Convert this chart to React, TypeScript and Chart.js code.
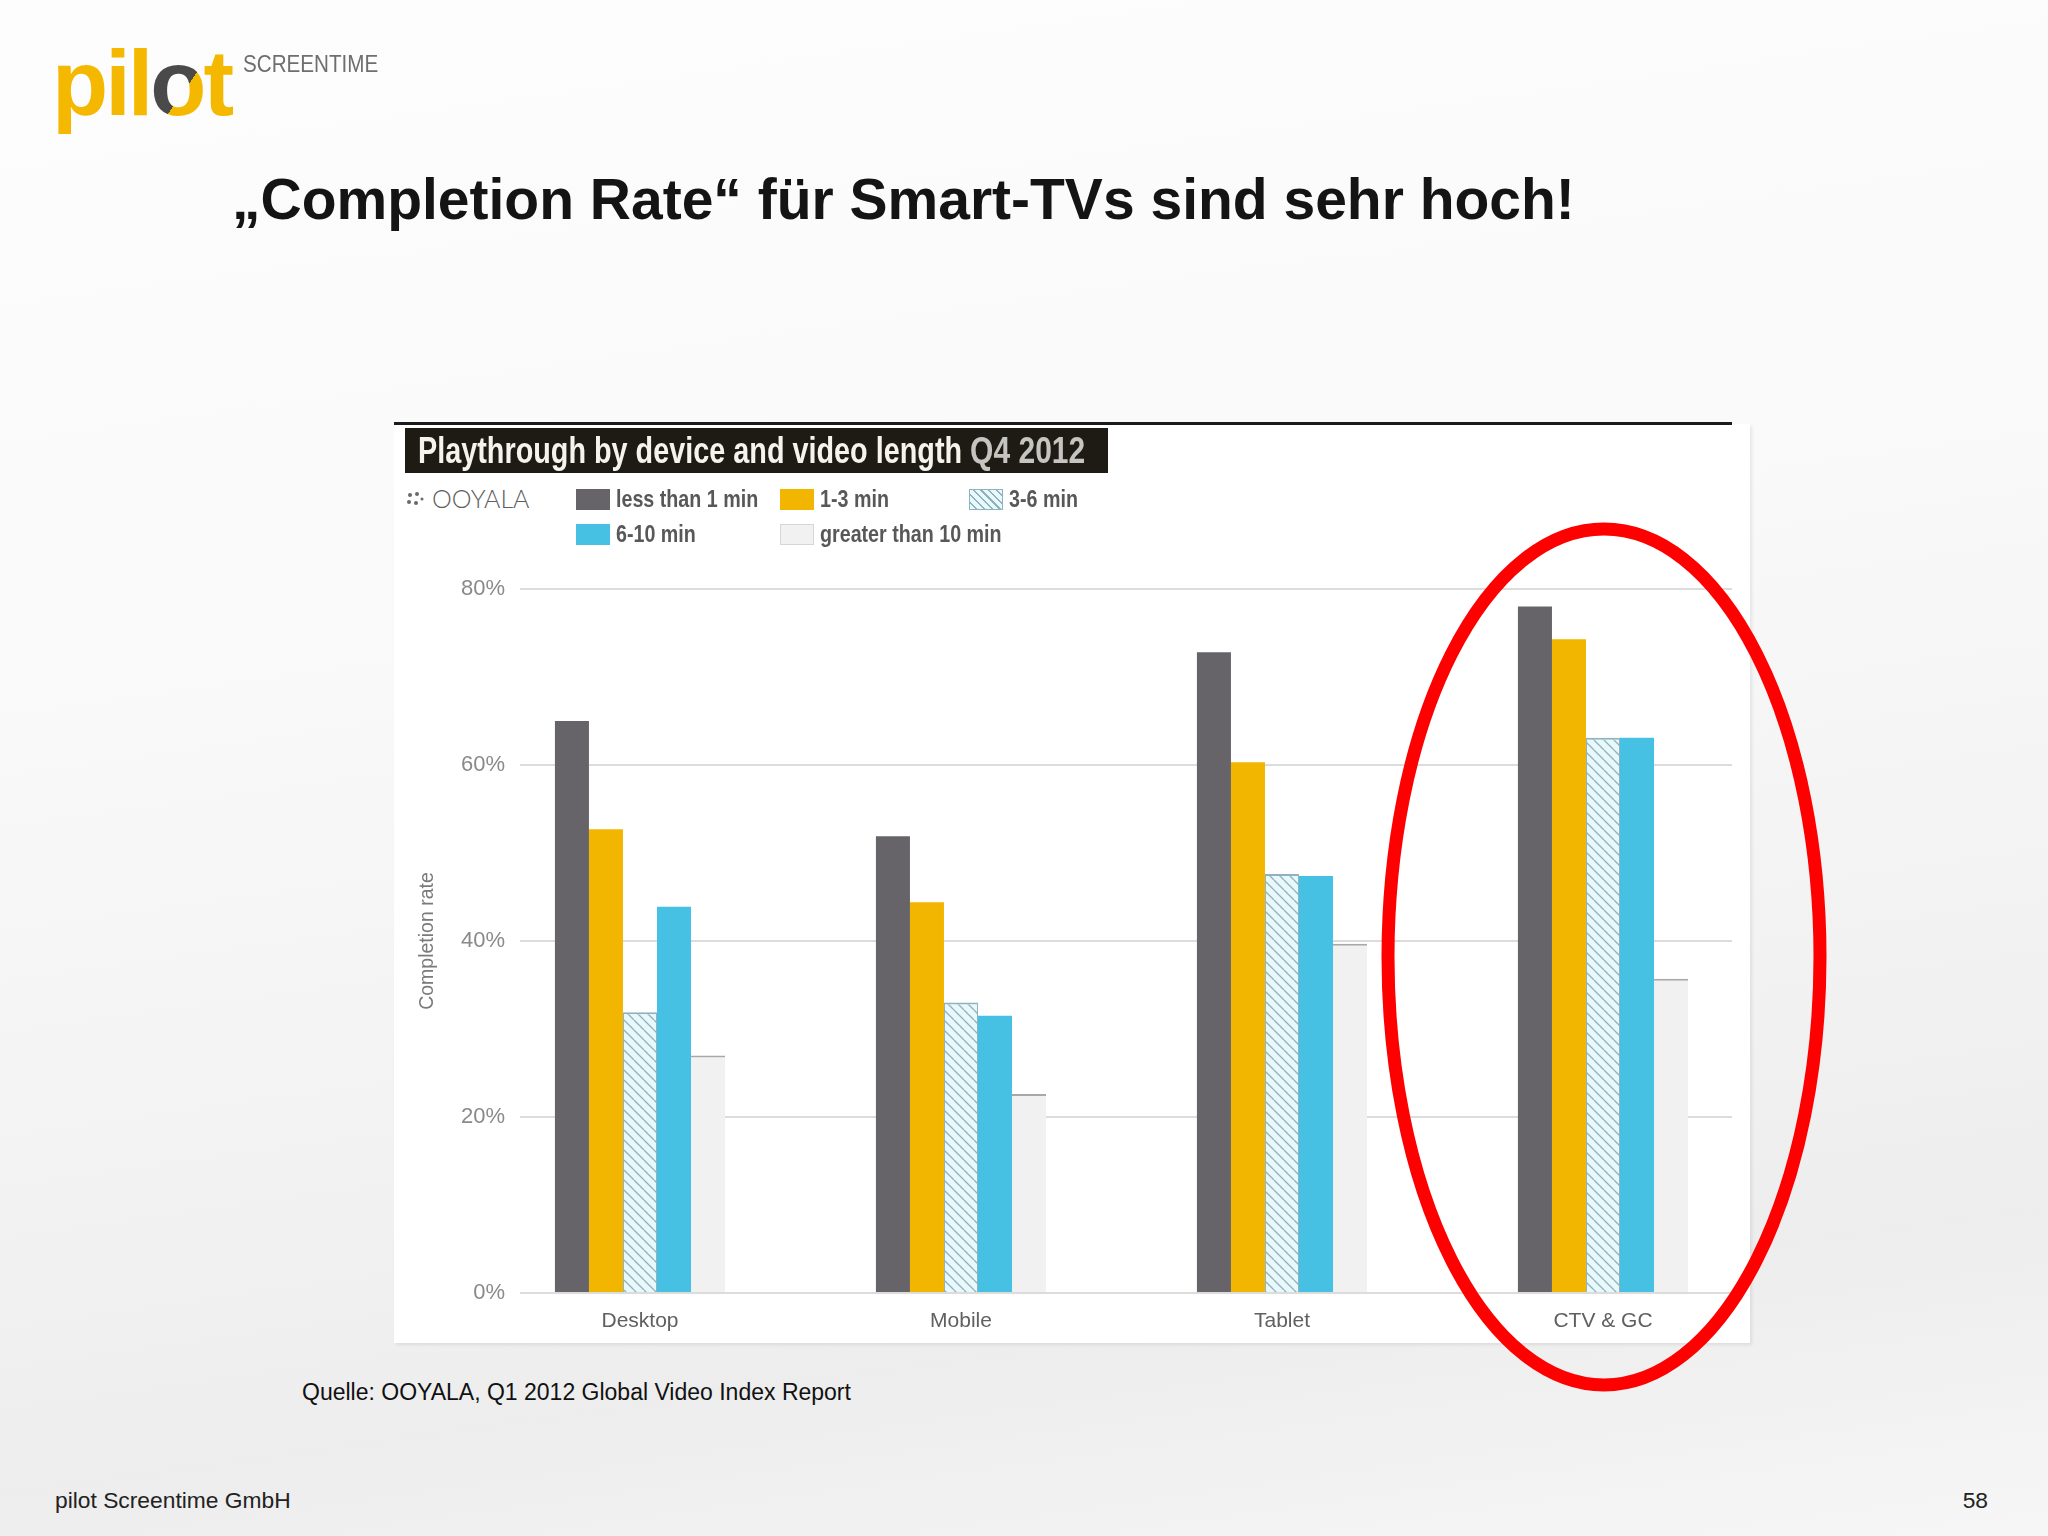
import React, { useEffect, useRef } from "react";
import { Chart, registerables } from "chart.js";

Chart.register(...registerables);

// ---------- data ----------
const categories = ["Desktop", "Mobile", "Tablet", "CTV & GC"];
const seriesNames = ["less than 1 min", "1-3 min", "3-6 min", "6-10 min", "greater than 10 min"];
const lessThan1Min = [65.0, 51.9, 72.8, 78.0];
const min1to3 = [52.7, 44.4, 60.3, 74.3];
const min3to6 = [31.9, 33.0, 47.6, 63.1];
const min6to10 = [43.9, 31.5, 47.4, 63.1];
const greaterThan10Min = [27.0, 22.6, 39.7, 35.7];
const yTicks = [0, 20, 40, 60, 80];

// ---------- styles ----------
const DARK = "#666468";
const YELLOW = "#f3b600";
const BLUE = "#47c1e3";
const LIGHT = "#f1f1f1";
const HATCH_BG = "#e9f8fb";
const HATCH_LINE = "#8fb3be";
const FONT = '"Liberation Sans", Arial, Helvetica, sans-serif';

function makeHatch(size = 10): CanvasPattern | string {
  const c = document.createElement("canvas");
  c.width = size;
  c.height = size;
  const g = c.getContext("2d");
  if (!g) return HATCH_BG;
  g.fillStyle = HATCH_BG;
  g.fillRect(0, 0, size, size);
  g.strokeStyle = HATCH_LINE;
  g.lineWidth = 1.3;
  for (const o of [-size, 0, size]) {
    g.beginPath();
    g.moveTo(o, 0);
    g.lineTo(o + size, size);
    g.stroke();
  }
  return g.createPattern(c, "repeat") || HATCH_BG;
}

const toPoints = (vals: number[]) => vals.map((y, i) => ({ x: i, y }));

const legendSwatch = [
  { background: DARK, border: "none" },
  { background: YELLOW, border: "none" },
  {
    background: `repeating-linear-gradient(45deg, ${HATCH_BG} 0px, ${HATCH_BG} 4px, ${HATCH_LINE} 4px, ${HATCH_LINE} 5.5px)`,
    border: `1px solid ${HATCH_LINE}`,
  },
  { background: BLUE, border: "none" },
  { background: LIGHT, border: "1px solid #d6d6d6" },
];
const legendColX = [576, 780, 969];
const legendRowY = [499, 534];

function ChartBox() {
  const ref = useRef<HTMLCanvasElement | null>(null);
  useEffect(() => {
    if (!ref.current) return;
    const hatch = makeHatch();
    const chart = new Chart(ref.current, {
      type: "bar",
      data: {
        datasets: [
          { label: seriesNames[0], data: toPoints(lessThan1Min), backgroundColor: DARK, borderWidth: 0 },
          { label: seriesNames[1], data: toPoints(min1to3), backgroundColor: YELLOW, borderWidth: 0 },
          {
            label: seriesNames[2],
            data: toPoints(min3to6),
            backgroundColor: hatch as any,
            borderColor: HATCH_LINE,
            borderWidth: { top: 2, left: 1, right: 1, bottom: 0 },
          },
          { label: seriesNames[3], data: toPoints(min6to10), backgroundColor: BLUE, borderWidth: 0 },
          {
            label: seriesNames[4],
            data: toPoints(greaterThan10Min),
            backgroundColor: LIGHT,
            borderColor: "#a8a8a8",
            borderWidth: { top: 2, left: 0, right: 0, bottom: 0 },
          },
        ],
      },
      options: {
        animation: false,
        responsive: false,
        maintainAspectRatio: false,
        devicePixelRatio: 1,
        layout: { padding: { top: 29, right: 18, left: 0, bottom: 0 } },
        datasets: { bar: { categoryPercentage: 0.53, barPercentage: 1.0, borderSkipped: "start" } },
        plugins: { legend: { display: false }, tooltip: { enabled: false }, title: { display: false } },
        scales: {
          x: {
            type: "linear",
            min: -0.3738,
            max: 3.4019,
            offset: false,
            grid: { display: false },
            border: { display: false },
            afterBuildTicks: (s: any) => {
              s.ticks = categories.map((_, i) => ({ value: i }));
            },
            afterFit: (s: any) => {
              s.height = 50;
            },
            ticks: {
              autoSkip: false,
              maxRotation: 0,
              minRotation: 0,
              padding: 8,
              color: "#606060",
              font: { family: FONT, size: 21 },
              callback: (v: any) => categories[Number(v)] ?? "",
            },
          },
          y: {
            type: "linear",
            min: 0,
            max: 80,
            afterBuildTicks: (s: any) => {
              s.ticks = yTicks.map((v) => ({ value: v }));
            },
            afterFit: (s: any) => {
              s.width = 126;
            },
            grid: { color: "#dcdcdc", lineWidth: 2, drawTicks: false },
            border: { display: false },
            ticks: {
              padding: 15,
              color: "#8a8a8a",
              font: { family: FONT, size: 22 },
              callback: (v: any) => `${v}%`,
            },
            title: {
              display: true,
              text: "Completion rate",
              color: "#7a7a7a",
              font: { family: FONT, size: 19.5 },
              padding: { top: 22, bottom: 0 },
            },
          },
        },
      } as any,
    });
    return () => chart.destroy();
  }, []);
  return (
    <canvas
      ref={ref}
      width={1356}
      height={783}
      style={{ position: "absolute", left: 394, top: 560, width: 1356, height: 783 }}
    />
  );
}

const abs = (left: number, top: number, extra: React.CSSProperties = {}): React.CSSProperties => ({
  position: "absolute",
  left,
  top,
  lineHeight: 1,
  whiteSpace: "nowrap",
  ...extra,
});

export default function App() {
  return (
    <div
      style={{
        position: "absolute",
        left: 0,
        top: 0,
        width: 2048,
        height: 1536,
        overflow: "hidden",
        fontFamily: FONT,
        background:
          "linear-gradient(172deg, #fdfdfd 0%, #f9f9f9 40%, #f1f1f1 70%, #ededed 82%, #f6f6f6 100%)",
      }}
    >
      {/* logo */}
      <div style={abs(52, 37, { fontSize: 92, fontWeight: 700, color: "#f5b800", letterSpacing: -3 })}>
        pil
        <span
          style={{
            background: "linear-gradient(125deg, #4a4a4a 0%, #4a4a4a 60%, #f5b800 60%)",
            WebkitBackgroundClip: "text",
            backgroundClip: "text",
            color: "transparent",
          }}
        >
          o
        </span>
        t
      </div>
      <div
        style={abs(243, 52, {
          fontSize: 24,
          color: "#6e6e6e",
          transform: "scaleX(0.86)",
          transformOrigin: "left center",
        })}
      >
        SCREENTIME
      </div>

      {/* slide title */}
      <div style={abs(232, 171, { fontSize: 57, fontWeight: 700, color: "#141414" })}>
        „Completion Rate“ für Smart-TVs sind sehr hoch!
      </div>

      {/* chart card */}
      <div
        style={{
          position: "absolute",
          left: 394,
          top: 424,
          width: 1356,
          height: 919,
          background: "#ffffff",
          boxShadow: "2px 2px 3px rgba(0,0,0,0.08)",
        }}
      />
      <div style={{ position: "absolute", left: 394, top: 422, width: 1338, height: 3, background: "#1b1b1b" }} />
      <div
        style={{
          position: "absolute",
          left: 405,
          top: 428,
          width: 703,
          height: 45,
          background: "#1e1b14",
          overflow: "hidden",
        }}
      >
        <div
          style={abs(13, 4, {
            fontSize: 36,
            fontWeight: 700,
            color: "#f4f3ee",
            transform: "scaleX(0.8)",
            transformOrigin: "left center",
          })}
        >
          Playthrough by device and video length{" "}
          <span style={{ color: "#c4c4c0", fontSize: 37.5 }}>Q4 2012</span>
        </div>
      </div>

      {/* OOYALA brand */}
      <div
        style={abs(406, 486, {
          fontSize: 25,
          color: "#5e5e5e",
          fontFamily: "Lato, " + FONT,
          fontWeight: 300,
          display: "flex",
          alignItems: "center",
        })}
      >
        <svg width="20" height="16" viewBox="0 0 20 16" style={{ marginRight: 6 }}>
          <circle cx="4" cy="4" r="2" fill="#6a6a6a" />
          <circle cx="11" cy="3" r="2" fill="#6a6a6a" />
          <circle cx="3" cy="11" r="2" fill="#6a6a6a" />
          <circle cx="10" cy="12" r="2" fill="#6a6a6a" />
          <circle cx="16" cy="8" r="1.5" fill="#6a6a6a" />
        </svg>
        OOYALA
      </div>

      {/* legend */}
      {seriesNames.map((name, i) => {
        const col = i % 3;
        const row = Math.floor(i / 3);
        const x = legendColX[col];
        const cy = legendRowY[row];
        return (
          <React.Fragment key={name}>
            <div
              style={{
                position: "absolute",
                left: x,
                top: cy - 10.5,
                width: 34,
                height: 21,
                boxSizing: "border-box",
                background: legendSwatch[i].background,
                border: legendSwatch[i].border,
              }}
            />
            <div
              style={abs(x + 40, cy - 12, {
                fontSize: 24,
                fontWeight: 700,
                color: "#585858",
                transform: "scaleX(0.82)",
                transformOrigin: "left center",
              })}
            >
              {name}
            </div>
          </React.Fragment>
        );
      })}

      <ChartBox />

      {/* source & footer */}
      <div style={abs(302, 1381, { fontSize: 23, color: "#111" })}>
        Quelle: OOYALA, Q1 2012 Global Video Index Report
      </div>
      <div style={abs(55, 1489, { fontSize: 22.8, color: "#222" })}>pilot Screentime GmbH</div>
      <div style={{ ...abs(0, 1489, { fontSize: 22.8, color: "#222" }), left: "auto", right: 2048 - 1988 }}>58</div>

      {/* red highlight ellipse */}
      <svg
        width={2048}
        height={1536}
        style={{ position: "absolute", left: 0, top: 0, pointerEvents: "none" }}
      >
        <ellipse cx={1604} cy={957} rx={216} ry={428} fill="none" stroke="#ff0000" strokeWidth={13} />
      </svg>
    </div>
  );
}
